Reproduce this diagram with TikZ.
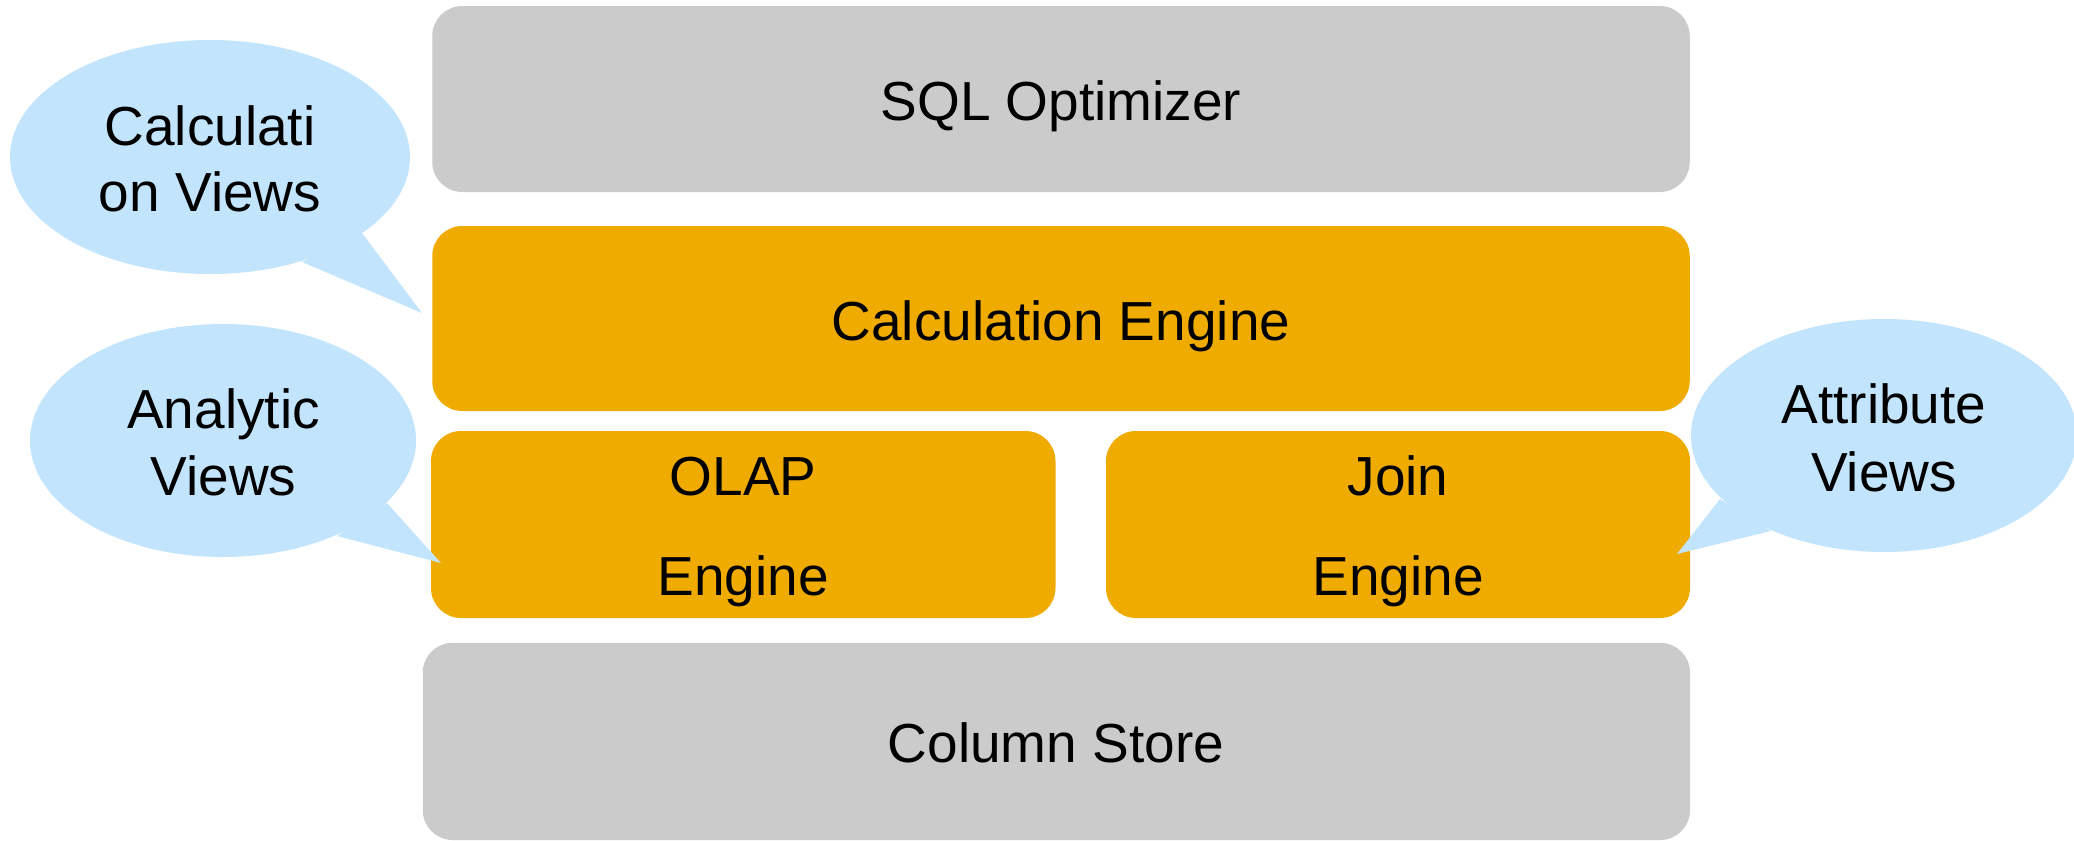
\documentclass[tikz,border=0pt]{standalone}
\usepackage{fontspec}
\setmainfont{Liberation Sans}
\usetikzlibrary{shapes.geometric}
\definecolor{layergray}{RGB}{203,203,203}
\definecolor{engineorange}{RGB}{240,171,0}
\definecolor{bubbleblue}{RGB}{194,228,252}
\tikzset{
  layerbox/.style={rectangle, rounded corners=15pt, inner sep=0pt, outer sep=0pt, draw=none},
  graylayer/.style={layerbox, fill=layergray},
  orangelayer/.style={layerbox, fill=engineorange},
  bubble/.style={ellipse, fill=bubbleblue, draw=none, inner sep=0pt, outer sep=0pt},
  tail/.style={fill=bubbleblue, draw=none},
  label/.style={anchor=base, inner sep=0pt, font=\fontsize{27.5pt}{33pt}\selectfont, text=black}
}
\begin{document}
\begin{tikzpicture}[x=0.5pt,y=-0.5pt]
  % canvas
  \useasboundingbox (0,0) rectangle (2074,841);

  % layers of the engine stack
  \node[graylayer, minimum width=628.75pt, minimum height=93pt] (sql) at (1061,99) {};
  \node[orangelayer, minimum width=628.75pt, minimum height=92.5pt] (calc) at (1061,318.5) {};
  \node[orangelayer, minimum width=312.25pt, minimum height=93.5pt] (olap) at (743.25,524.5) {};
  \node[orangelayer, minimum width=292pt, minimum height=93.5pt] (join) at (1398,524.5) {};
  \node[graylayer, minimum width=633.65pt, minimum height=98.65pt] (colstore) at (1056.4,741.4) {};

  \node[label] (sqltext) at (1061,120) {SQL Optimizer};
  \node[label] (calctext) at (1061,340) {Calculation Engine};
  \node[label] (olaptext1) at (743,495) {OLAP};
  \node[label] (olaptext2) at (743,595) {Engine};
  \node[label] (jointext1) at (1398,495) {Join};
  \node[label] (jointext2) at (1398,595) {Engine};
  \node[label] (coltext) at (1056,762) {Column Store};

  % speech bubbles
  \node[bubble, minimum width=200pt, minimum height=117pt] (calcviews) at (210,157) {};
  \coordinate (calctip) at (422,313);
  \fill[tail] (362,233) -- (calctip) -- (302,262) -- cycle;
  \node[label] (cvtext1) at (210,145) {Calculati};
  \node[label] (cvtext2) at (210,211) {on Views};

  \node[bubble, minimum width=193pt, minimum height=116.5pt] (anviews) at (223,440.5) {};
  \coordinate (antip) at (441,563);
  \fill[tail] (387,503) -- (antip) -- (337,536) -- cycle;
  \node[label] (avtext1) at (223.5,428) {Analytic};
  \node[label] (avtext2) at (223.5,495) {Views};

  \node[bubble, minimum width=193pt, minimum height=116.5pt] (atviews) at (1884,435.5) {};
  \coordinate (attip) at (1677,554);
  \fill[tail] (1720,499) -- (attip) -- (1771,531) -- cycle;
  \node[label] (atvtext1) at (1884,423) {Attribute};
  \node[label] (atvtext2) at (1884,491) {Views};
\end{tikzpicture}
\end{document}
